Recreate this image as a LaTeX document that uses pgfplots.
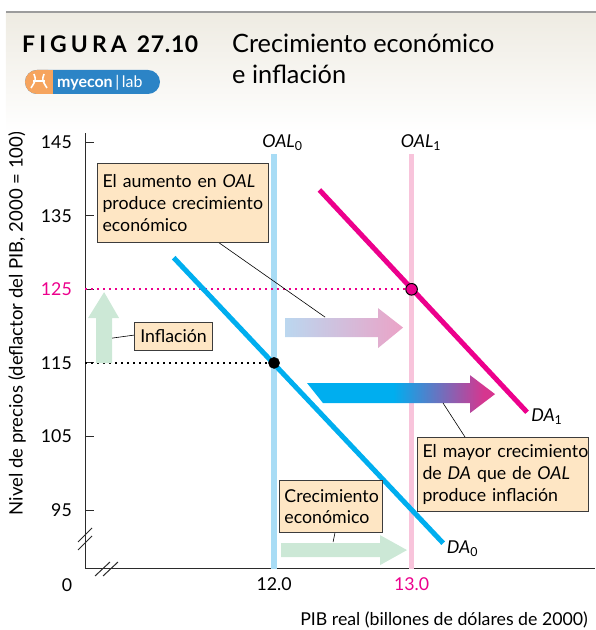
\documentclass[border=0pt]{standalone}
\usepackage{fontspec}
\setmainfont{Lato}
\usepackage{pgfplots}
\pgfplotsset{compat=1.18}

\definecolor{DAblue}{HTML}{00AEEF}
\definecolor{DAmag}{HTML}{EC008C}
\definecolor{OALblue}{HTML}{A8DCF5}
\definecolor{OALpink}{HTML}{F8C4DB}
\definecolor{BoxFill}{HTML}{FEE6C4}
\definecolor{BoxEdge}{HTML}{3C3C3C}
\definecolor{AxisGray}{HTML}{2B2B2B}
\definecolor{ArrGreen}{HTML}{CCE8D6}
\definecolor{ArrLBlue}{HTML}{BBD7EF}
\definecolor{ArrPink}{HTML}{EBA3C7}
\definecolor{ArrMag}{HTML}{D6368F}
\definecolor{HeadBeige}{HTML}{EEEBE2}
\definecolor{HeadLine}{HTML}{9C9C9C}
\definecolor{LogoBlue}{HTML}{2C84C6}
\definecolor{LogoOrange}{HTML}{F6A45E}

\pgfdeclarehorizontalshading{upperarrow}{100bp}{color(0bp)=(ArrLBlue); color(25bp)=(ArrLBlue); color(75bp)=(ArrPink); color(100bp)=(ArrPink)}
\pgfdeclarehorizontalshading{bigarrow}{100bp}{color(0bp)=(DAblue); color(48bp)=(DAblue); color(72bp)=(ArrMag); color(100bp)=(ArrMag)}

\newcommand\annot{\fontsize{17.8}{21.7}\selectfont}

\tikzset{
  callout/.style={draw=BoxEdge, fill=BoxFill, line width=0.9bp, inner xsep=5bp,
    inner ysep=0bp, align=left, font=\annot, anchor=north west},
  leader/.style={black, line width=0.6bp}
}

\begin{document}
\begin{tikzpicture}[x=1bp,y=1bp]
\begin{axis}[
  x=137.5bp, y=7.36bp,
  xmin=10.625, xmax=14.335, ymin=87, ymax=146.2,
  axis x line*=bottom, axis y line*=left,
  axis line style={-, line width=1bp, draw=AxisGray},
  xtick={12,13}, xticklabels={12.0,\textcolor{DAmag}{13.0}},
  ytick={95,105,115,125,135,145},
  yticklabels={95,105,115,\textcolor{DAmag}{125},135,145},
  xtick style={draw=none},
  ytick style={draw=AxisGray, line width=1bp},
  tick align=inside, major tick length=9bp,
  yticklabel style={anchor=east, inner sep=0pt, xshift=-13bp},
  xticklabel style={anchor=north, inner sep=0pt, yshift=-8bp},
  tick label style={font=\annot},
  clip=false,
]
\coordinate (C) at (10.625,87);
% long-run aggregate supply
\addplot[OALblue, line width=5.5bp] coordinates {(12,87) (12,143.4)};
\addplot[OALpink, line width=5.5bp] coordinates {(13,87) (13,143.4)};
% price-level guides
\addplot[black, line width=1.6bp, dash pattern=on 1.6bp off 4.4bp] coordinates {(10.625,115) (12,115)};
\addplot[DAmag, line width=1.8bp, dash pattern=on 1.8bp off 4.2bp] coordinates {(10.625,125) (13,125)};

% arrows
\shade[shading=upperarrow] (12.080,121.09) -- (12.756,121.09) -- (12.756,122.45) -- (12.938,119.80)
  -- (12.756,117.01) -- (12.756,118.51) -- (12.080,118.51) -- cycle;
\shade[shading=bigarrow] (12.240,112.26) -- (13.425,112.26) -- (13.425,113.34) -- (13.607,110.76)
  -- (13.425,108.18) -- (13.425,109.54) -- (12.356,109.54) -- cycle;
\fill[ArrGreen] (12.051,90.52) -- (12.771,90.52) -- (12.771,91.60) -- (12.967,89.57)
  -- (12.771,87.53) -- (12.771,88.61) -- (12.051,88.61) -- cycle;
\fill[ArrGreen] (10.705,114.97) -- (10.705,121.09) -- (10.647,121.09) -- (10.764,124.62)
  -- (10.873,121.09) -- (10.822,121.09) -- (10.822,114.97) -- cycle;

% aggregate demand
\addplot[DAblue, line width=5bp] coordinates {(11.27,129.3) (13.23,90.5)};
\addplot[DAmag, line width=5bp] coordinates {(12.33,138.5) (13.84,108.3)};

% equilibria
\addplot[only marks, mark=*, mark size=5.6bp, mark options={fill=black, draw=black}] coordinates {(12,115)};
\addplot[only marks, mark=*, mark size=5.8bp, mark options={fill=DAmag, draw=black, line width=1bp}] coordinates {(13,125)};

% leaders
\draw[leader] (11.593,131.41) -- (12.371,121.22);
\draw[leader] (10.822,118.37) -- (10.982,118.78);
\draw[leader] (13.389,104.92) -- (13.229,109.54);
\draw[leader] (12.444,92.01) -- (12.429,90.65);

% callouts
\node[callout, text width=161bp, minimum height=79bp] at (10.713,142.15)
  {\mbox{El aumento en \textit{OAL}}\\\mbox{produce crecimiento}\\\mbox{económico}};
\node[callout, anchor=west, minimum width=78bp, minimum height=28bp] at (10.982,118.64) {Inflación};
\node[callout, text width=161bp, minimum height=74bp] at (13.040,104.92)
  {\mbox{El mayor crecimiento}\\\mbox{de \textit{DA} que de \textit{OAL}}\\\mbox{produce inflación}};
\node[callout, text width=93bp, minimum height=52bp] at (12.036,99.08)
  {\mbox{Crecimiento}\\\mbox{económico}};

% curve labels
\node[anchor=base west, inner sep=0pt, font=\annot] at (11.913,144.32) {\textit{OAL}\textsubscript{0}};
\node[anchor=base west, inner sep=0pt, font=\annot] at (12.921,144.32) {\textit{OAL}\textsubscript{1}};
\node[anchor=base west, inner sep=0pt, font=\annot] at (13.869,107.0) {\textit{DA}\textsubscript{1}};
\node[anchor=base west, inner sep=0pt, font=\annot] at (13.256,89.12) {\textit{DA}\textsubscript{0}};
\node[inner sep=0pt, font=\annot] at (10.495,84.81) {0};

% axis titles
\node[rotate=90, inner sep=0pt, font=\fontsize{18.6}{22}\selectfont] at (10.131,120.34)
  {Nivel de precios (deflactor del PIB, 2000 = 100)};
\node[anchor=east, inner sep=0pt, font=\annot] at (14.284,80.05)
  {PIB real (billones de dólares de 2000)};
\end{axis}

\pgfresetboundingbox
\begin{scope}[shift={(C)}, xshift=-85bp, yshift=-61bp]
\useasboundingbox (0,0) rectangle (596,630);
% header band
\shade[top color=HeadBeige, bottom color=white] (6,498) rectangle (596,617);
\draw[HeadLine, line width=1.8bp] (6,618) -- (596,618);
\node[anchor=base west, inner sep=0pt, font=\fontsize{23}{24}\selectfont\bfseries] at (22,577)
  {{\addfontfeatures{LetterSpace=18}FIGURA}\hspace{10bp}{\addfontfeatures{LetterSpace=3}27.10}};
\node[anchor=base west, inner sep=0pt, font=\fontsize{25.4}{28}\selectfont] at (232,577) {Crecimiento económico};
\node[anchor=base west, inner sep=0pt, font=\fontsize{25.4}{28}\selectfont] at (232,546) {e inflación};
% logo
\fill[LogoBlue, rounded corners=12bp] (25,536) rectangle (160,560);
\fill[LogoOrange, rounded corners=12bp] (25,536) rectangle (60,560);
\fill[LogoOrange] (45,536) rectangle (53,560);
\fill[LogoBlue] (53,536) rectangle (60,560);
\draw[white, line width=1.6bp] (31,542) .. controls (36,550) .. (34,556);
\draw[white, line width=1.6bp] (47,542) .. controls (42,550) .. (44,556);
\draw[white, line width=1.4bp] (33,549) -- (45,549);
\node[anchor=base west, inner sep=0pt, text=white, font=\fontsize{16}{18}\selectfont] at (57,542) {\textbf{myecon}\,|\,lab};
% axis breaks
\draw[AxisGray, line width=1bp] (78,80) -- (92,94) (78,88) -- (92,102);
\draw[AxisGray, line width=1bp] (95,54) -- (110,68) (103,54) -- (118,68);
\end{scope}
\end{tikzpicture}
\end{document}
